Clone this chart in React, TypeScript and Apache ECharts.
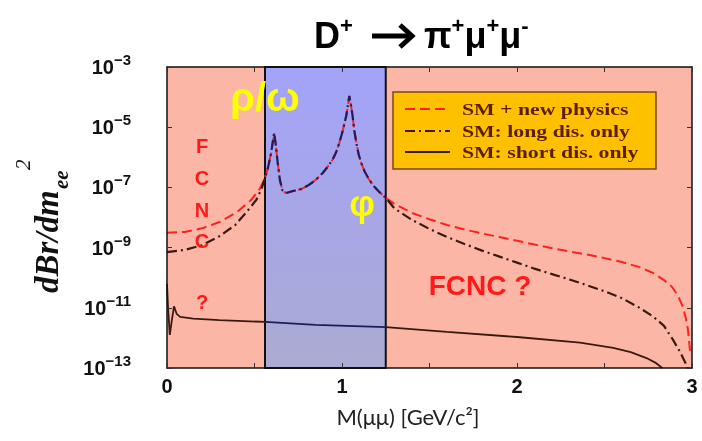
import React, { useEffect, useRef } from "react";
import * as echarts from "echarts";

// Dilepton invariant mass M(μμ) in GeV/c² and log10(dBr/dm²) for each curve.
// Below the ρ/ω region: SM + new physics
const massLowNP = [0.0, 0.1, 0.2, 0.3, 0.4, 0.48, 0.53];
const logLowNP = [-8.51, -8.48, -8.36, -8.15, -7.82, -7.42, -7.05];
// Below the ρ/ω region: long-distance only
const massLowLD = [0.0, 0.1, 0.2, 0.3, 0.39, 0.45, 0.51, 0.54];
const logLowLD = [-9.15, -9.08, -8.92, -8.62, -8.25, -7.85, -7.42, -7.05];
// Resonance region (ρ/ω … φ), shared by both curves
const massPeak = [
  0.56, 0.575, 0.595, 0.612, 0.622, 0.632, 0.645, 0.66, 0.68, 0.72, 0.77, 0.81,
  0.85, 0.89, 0.92, 0.945, 0.965, 0.985, 1.005, 1.025, 1.042, 1.052, 1.06, 1.07,
  1.082, 1.095, 1.11, 1.13, 1.156, 1.185, 1.213, 1.25,
];
const logPeak = [
  -6.68, -6.4, -5.86, -5.19, -5.6, -6.15, -6.75, -7.1, -7.19, -7.12, -7.05, -6.92,
  -6.75, -6.52, -6.3, -6.09, -5.85, -5.52, -5.1, -4.6, -3.96, -4.3, -4.6, -5.1,
  -5.52, -5.9, -6.19, -6.48, -6.75, -6.98, -7.15, -7.35,
];
// Above the φ: SM + new physics
const massHighNP = [
  1.3, 1.4, 1.5, 1.6, 1.7, 1.8, 1.9, 2.0, 2.1, 2.2, 2.3, 2.4, 2.5, 2.6, 2.7, 2.78,
  2.84, 2.885, 2.92, 2.948, 2.965, 2.977, 2.99,
];
const logHighNP = [
  -7.55, -7.85, -8.06, -8.25, -8.4, -8.53, -8.65, -8.77, -8.9, -9.02, -9.13, -9.23,
  -9.35, -9.48, -9.65, -9.85, -10.08, -10.3, -10.6, -10.97, -11.35, -11.73, -12.5,
];
// Above the φ: long-distance only
const massHighLD = [
  1.3, 1.4, 1.5, 1.6, 1.7, 1.8, 1.9, 2.0, 2.1, 2.2, 2.3, 2.4, 2.5, 2.6, 2.7, 2.78,
  2.84, 2.89, 2.93, 2.96, 2.975,
];
const logHighLD = [
  -7.7, -8.08, -8.38, -8.65, -8.88, -9.1, -9.3, -9.5, -9.7, -9.88, -10.06, -10.25,
  -10.45, -10.68, -11.0, -11.3, -11.6, -12.05, -12.45, -12.8, -13.0,
];
// Short-distance only
const massSD = [
  0.0, 0.006, 0.016, 0.028, 0.04, 0.055, 0.075, 0.15, 0.3, 0.56, 0.85, 1.25, 1.6,
  2.0, 2.36, 2.55, 2.65, 2.74, 2.79, 2.83,
];
const logSD = [
  -10.2, -11.0, -11.9, -11.4, -10.95, -11.2, -11.3, -11.36, -11.41, -11.47, -11.57,
  -11.64, -11.8, -11.97, -12.16, -12.33, -12.47, -12.67, -12.82, -13.0,
];

const bandRange = [0.56, 1.25];
const LOG_FLOOR = -13; // 10^-13 at the bottom of the frame
const LOG_CEIL = -3; // 10^-3 at the top

const legendNames = ["SM + new physics", "SM: long dis. only", "SM: short dis. only"];

const RED = "#FF2020";
const DARK = "#3A1A10";
const NAVY = "#1C1C5E";
const SANS = "Liberation Sans, Arial, sans-serif";
const SERIF = "Liberation Serif, Times New Roman, serif";

const toPairs = (m: number[], l: number[]) => m.map((x, i) => [x, l[i] - LOG_FLOOR]);

const titleRich = {
  m: { fontSize: 36, fontWeight: "bold", fontFamily: SANS, fill: "#000", lineHeight: 42 },
  p: { fontSize: 22, fontWeight: "bold", fontFamily: SANS, fill: "#000", lineHeight: 24, verticalAlign: "top" },
};

export default function App() {
  const ref = useRef<HTMLDivElement>(null);

  useEffect(() => {
    if (!ref.current) return;
    const chart = echarts.init(ref.current, undefined, { renderer: "svg" });

    const newPhysics = [
      ...toPairs(massLowNP, logLowNP),
      ...toPairs(massPeak, logPeak),
      ...toPairs(massHighNP, logHighNP),
    ];
    const longDist = [
      ...toPairs(massLowLD, logLowLD),
      ...toPairs(massPeak, logPeak),
      ...toPairs(massHighLD, logHighLD),
    ];
    const shortDist = toPairs(massSD, logSD);

    const axisLine = { show: true, onZero: false, lineStyle: { color: "#111", width: 1.5 } };
    const tick = { show: true, inside: true, length: 5, lineStyle: { color: "#333", width: 1 } };

    const legendY = [109, 131, 152];
    const legendDash: (number[] | undefined)[] = [[10, 5], [10, 4, 2, 4], undefined];
    const legendColor = [RED, DARK, DARK];

    chart.setOption({
      animation: false,
      grid: {
        left: 167,
        right: 10,
        top: 67,
        bottom: 73,
        show: true,
        backgroundColor: "#FCB6A6",
        borderWidth: 0,
      },
      xAxis: [
        {
          type: "value",
          min: 0,
          max: 3,
          interval: 0.5,
          position: "bottom",
          z: 10,
          axisLine,
          axisTick: tick,
          splitLine: { show: false },
          axisLabel: {
            margin: 8,
            fontSize: 20,
            fontWeight: "bold",
            fontFamily: SANS,
            color: "#111",
            formatter: (v: number) => (Number.isInteger(v) ? String(v) : ""),
          },
        },
        {
          type: "value",
          min: 0,
          max: 3,
          interval: 0.5,
          position: "top",
          z: 10,
          axisLine,
          axisTick: tick,
          splitLine: { show: false },
          axisLabel: { show: false },
        },
      ],
      yAxis: [
        {
          type: "value",
          min: 0,
          max: LOG_CEIL - LOG_FLOOR,
          interval: 2,
          position: "left",
          z: 10,
          axisLine,
          axisTick: tick,
          splitLine: { show: false },
          axisLabel: {
            margin: 36,
            formatter: (v: number) => `{b|10}{e|−${Math.abs(v + LOG_FLOOR)}}`,
            rich: {
              b: { fontSize: 20, fontWeight: "bold", fontFamily: SANS, color: "#111", lineHeight: 30 },
              e: {
                fontSize: 15,
                fontWeight: "bold",
                fontFamily: SANS,
                color: "#111",
                lineHeight: 15,
                verticalAlign: "top",
              },
            },
          },
        },
        {
          type: "value",
          min: 0,
          max: LOG_CEIL - LOG_FLOOR,
          interval: 2,
          position: "right",
          z: 10,
          axisLine,
          axisTick: tick,
          splitLine: { show: false },
          axisLabel: { show: false },
        },
      ],
      visualMap: [
        {
          type: "piecewise",
          show: false,
          dimension: 0,
          seriesIndex: [2, 3],
          pieces: [
            { lt: bandRange[0], color: DARK },
            { gte: bandRange[0], lte: bandRange[1], color: NAVY },
            { gt: bandRange[1], color: DARK },
          ],
        },
      ],
      series: [
        {
          type: "line",
          data: [],
          z: 1,
          silent: true,
          markArea: {
            silent: true,
            itemStyle: {
              color: new echarts.graphic.LinearGradient(0, 0, 0, 1, [
                { offset: 0, color: "#A3A3FA" },
                { offset: 1, color: "#ABABD3" },
              ]),
              borderColor: "#111",
              borderWidth: 2,
            },
            data: [[{ xAxis: bandRange[0] }, { xAxis: bandRange[1] }]],
          },
        },
        {
          name: legendNames[0],
          type: "line",
          data: newPhysics,
          z: 3,
          symbol: "none",
          lineStyle: { color: RED, width: 2, type: [10, 5] },
        },
        {
          name: legendNames[1],
          type: "line",
          data: longDist,
          z: 4,
          symbol: "none",
          lineStyle: { width: 2.2, type: [10, 4, 2, 4] },
        },
        {
          name: legendNames[2],
          type: "line",
          data: shortDist,
          z: 4,
          symbol: "none",
          lineStyle: { width: 1.8 },
        },
      ],
      graphic: [
        // Title
        {
          type: "text",
          x: 314,
          y: 35,
          style: { text: "{m|D}{p|+}", align: "left", verticalAlign: "middle", rich: titleRich },
        },
        {
          type: "polyline",
          shape: { points: [[372, 36], [412, 36]] },
          style: { stroke: "#000", lineWidth: 5, fill: "none" },
        },
        {
          type: "polyline",
          shape: { points: [[400, 25], [412, 36], [400, 47]] },
          style: { stroke: "#000", lineWidth: 5, fill: "none", lineJoin: "miter" },
        },
        {
          type: "text",
          x: 424,
          y: 35,
          style: {
            text: "{m|π}{p|+}{m|μ}{p|+}{m|μ}{p|-}",
            align: "left",
            verticalAlign: "middle",
            rich: titleRich,
          },
        },
        // Y axis title, written bottom to top
        {
          type: "group",
          x: 47,
          y: 293,
          rotation: Math.PI / 2,
          children: [
            {
              type: "text",
              x: 0,
              y: 0,
              style: {
                text: "dBr/dm",
                fontSize: 33,
                fontStyle: "italic",
                fontWeight: "bold",
                fontFamily: SERIF,
                fill: "#111",
                align: "left",
                verticalAlign: "middle",
              },
            },
            {
              type: "text",
              x: 104,
              y: 14,
              style: {
                text: "ee",
                fontSize: 21,
                fontStyle: "italic",
                fontWeight: "bold",
                fontFamily: SERIF,
                fill: "#111",
                align: "left",
                verticalAlign: "middle",
              },
            },
            {
              type: "text",
              x: 123,
              y: -24,
              style: {
                text: "2",
                fontSize: 21,
                fontStyle: "italic",
                fontFamily: SERIF,
                fill: "#111",
                align: "left",
                verticalAlign: "middle",
              },
            },
          ],
        },
        // X axis title
        {
          type: "text",
          x: 408,
          y: 416,
          style: {
            text: "M(μμ) [GeV/c²]",
            fontSize: 22,
            fontFamily: "Lato, Liberation Sans, sans-serif",
            fill: "#222",
            align: "center",
            verticalAlign: "middle",
          },
        },
        // Legend box
        {
          type: "rect",
          shape: { x: 393, y: 92, width: 263, height: 77 },
          style: { fill: "#FFC000", stroke: "#7A4A1A", lineWidth: 1.5 },
          z: 20,
        },
        ...legendNames.flatMap((name, i) => [
          {
            type: "line",
            shape: { x1: 405, y1: legendY[i], x2: 450, y2: legendY[i] },
            style: {
              stroke: legendColor[i],
              lineWidth: 2.2,
              lineDash: legendDash[i],
            },
            z: 21,
          },
          {
            type: "text",
            x: 462,
            y: legendY[i],
            scaleX: 1.28,
            style: {
              text: name,
              fontSize: 17,
              fontWeight: "bold",
              fontFamily: SERIF,
              fill: "#5A1E00",
              align: "left",
              verticalAlign: "middle",
            },
            z: 21,
          },
        ]),
        // Region annotations
        {
          type: "text",
          x: 265,
          y: 97,
          style: {
            text: "ρ/ω",
            fontSize: 40,
            fontWeight: "bold",
            fontFamily: SANS,
            fill: "#FFFF00",
            align: "center",
            verticalAlign: "middle",
          },
          z: 20,
        },
        {
          type: "text",
          x: 362,
          y: 203,
          style: {
            text: "φ",
            fontSize: 36,
            fontWeight: "bold",
            fontFamily: SANS,
            fill: "#FFFF00",
            align: "center",
            verticalAlign: "middle",
          },
          z: 20,
        },
        {
          type: "text",
          x: 480,
          y: 285,
          style: {
            text: "FCNC ?",
            fontSize: 28,
            fontWeight: "bold",
            fontFamily: SANS,
            fill: "#FF1A1A",
            align: "center",
            verticalAlign: "middle",
          },
          z: 20,
        },
        ...["F", "C", "N", "C", "?"].map((ch, i) => ({
          type: "text",
          x: 202,
          y: [146, 178, 210, 241, 302][i],
          style: {
            text: ch,
            fontSize: 20,
            fontWeight: "bold",
            fontFamily: SANS,
            fill: "#FF1A1A",
            align: "center",
            verticalAlign: "middle",
          },
          z: 20,
        })),
      ],
    });

    return () => chart.dispose();
  }, []);

  return (
    <div
      ref={ref}
      style={{ position: "fixed", left: 0, top: 0, width: 702, height: 441 }}
    />
  );
}
